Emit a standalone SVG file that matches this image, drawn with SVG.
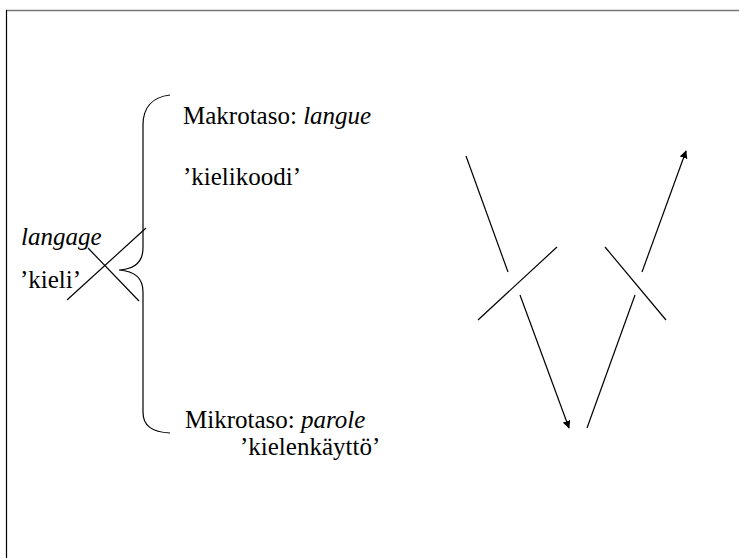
<svg xmlns="http://www.w3.org/2000/svg" width="739" height="558" viewBox="0 0 739 558">
<defs>
<style>
.t{font-family:"Liberation Serif";font-size:25px;fill:#000}
.i{font-style:italic}
.l{stroke:#000;stroke-width:1.2;fill:none}
</style>
<marker id="ah" viewBox="0 0 10 10" refX="9" refY="5" markerWidth="8" markerHeight="8" markerUnits="userSpaceOnUse" orient="auto"><path d="M0,0 L10,5 L0,10 z" fill="#000"/></marker>
</defs>
<rect width="739" height="558" fill="#fff"/>
<line x1="6" y1="10.5" x2="739" y2="10.5" stroke="#777" stroke-width="1.5"/>
<line x1="6.5" y1="10" x2="6.5" y2="558" stroke="#000" stroke-width="1.2"/>
<g id="brace">
<path class="l" d="M170,95 C152,97 143,108 143,125 L143,248 C143,262 135,269 119,270 C135,271 143,278 143,292 L143,412 C143,426 152,432 170,433"/>
</g>
<g id="cross">
<line class="l" x1="67" y1="300" x2="146" y2="228"/>
<line class="l" x1="88" y1="248" x2="139" y2="301"/>
</g>
<g id="langue"><text class="t" x="183" y="124">Makrotaso: <tspan class="i">langue</tspan></text>
<text class="t" x="183" y="185">’kielikoodi’</text></g>
<g id="parole"><text class="t" x="185" y="428">Mikrotaso: <tspan class="i">parole</tspan></text>
<text class="t" x="240" y="455">’kielenkäyttö’</text></g>
<g id="langage"><text class="t i" x="21" y="245">langage</text>
<text class="t" x="20" y="288">’kieli’</text></g>
<g id="connectors">
<line class="l" x1="466" y1="156" x2="508" y2="272"/>
<line class="l" x1="478" y1="320" x2="557" y2="247"/>
<line class="l" x1="520" y1="295" x2="569" y2="428" marker-end="url(#ah)"/>
<line class="l" x1="587" y1="428" x2="635" y2="295"/>
<line class="l" x1="605" y1="247" x2="666" y2="320"/>
<line class="l" x1="642" y1="272" x2="686" y2="151" marker-end="url(#ah)"/>
</g>
</svg>
